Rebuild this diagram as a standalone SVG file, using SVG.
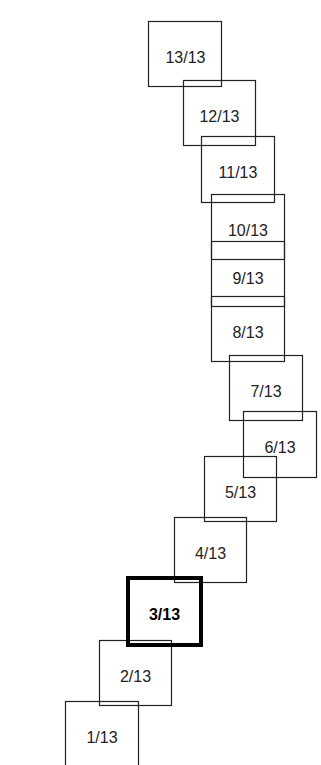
<svg xmlns="http://www.w3.org/2000/svg" width="321" height="765" viewBox="0 0 321 765">
<style>
.b{fill:none;stroke:#222;stroke-width:1.2}
.t{font-family:"Liberation Sans",Arial,sans-serif;font-size:16px;fill:#222;text-anchor:middle}
.cur .b{stroke:#000;stroke-width:4}
.cur .t{font-weight:bold;fill:#000}
</style>
<rect width="321" height="765" fill="#fff"/>
<g id="n13"><rect class="b" x="148.5" y="21.5" width="73" height="65"/><text class="t" x="185.5" y="63">13/13</text></g>
<g id="n12"><rect class="b" x="183.5" y="80.5" width="72" height="65"/><text class="t" x="219.5" y="122">12/13</text></g>
<g id="n11"><rect class="b" x="201.5" y="136.5" width="73" height="66"/><text class="t" x="238" y="178">11/13</text></g>
<g id="n10"><rect class="b" x="211.5" y="194.5" width="73" height="65"/><text class="t" x="248" y="236">10/13</text></g>
<g id="n9"><rect class="b" x="211.5" y="241.5" width="73" height="65"/><text class="t" x="248" y="284">9/13</text></g>
<g id="n8"><rect class="b" x="211.5" y="296.5" width="73" height="65"/><text class="t" x="248" y="338">8/13</text></g>
<g id="n7"><rect class="b" x="229.5" y="355.5" width="73" height="65"/><text class="t" x="266" y="397">7/13</text></g>
<g id="n6"><rect class="b" x="243.5" y="411.5" width="73" height="66"/><text class="t" x="280" y="452.5">6/13</text></g>
<g id="n5"><rect class="b" x="204.5" y="456.5" width="72" height="65"/><text class="t" x="240.5" y="498">5/13</text></g>
<g id="n4"><rect class="b" x="174.5" y="517.5" width="72" height="65"/><text class="t" x="210.5" y="559">4/13</text></g>
<g id="n2"><rect class="b" x="99.5" y="640.5" width="72" height="65"/><text class="t" x="135.5" y="682">2/13</text></g>
<g id="n1"><rect class="b" x="65.5" y="701.5" width="73" height="65"/><text class="t" x="102" y="743">1/13</text></g>
<g id="n3" class="cur"><rect class="b" x="128" y="578" width="73" height="67"/><text class="t" x="164.5" y="620">3/13</text></g>
<g id="connectors"></g>
</svg>
